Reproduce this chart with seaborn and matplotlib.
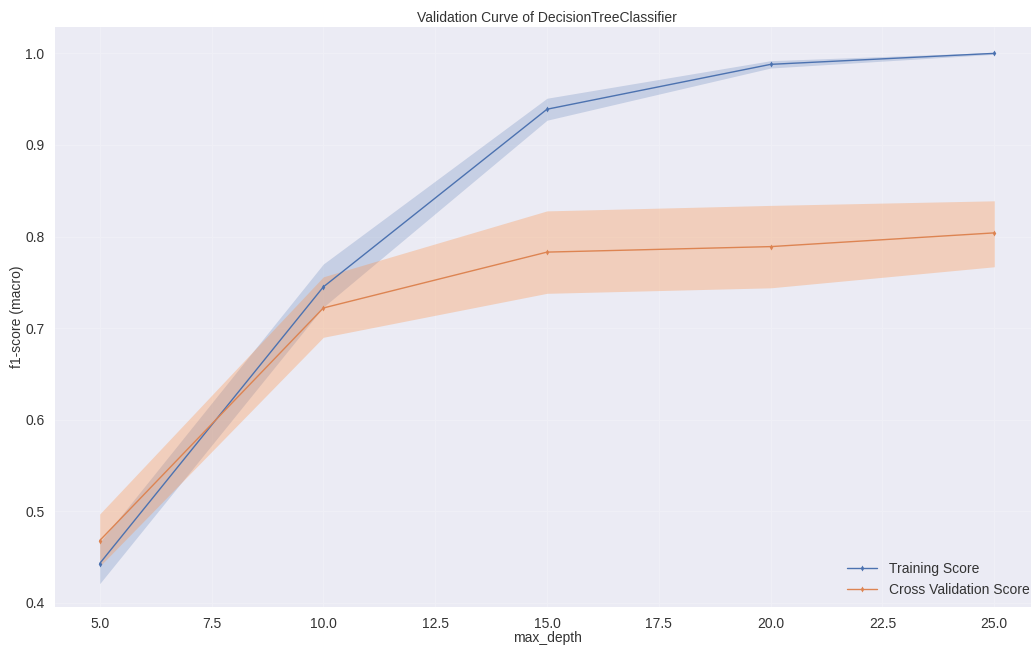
import numpy as np
import pandas as pd
import matplotlib
matplotlib.use("Agg")
import matplotlib.pyplot as plt
import seaborn as sns

# max_depth values tested
param_range = [5, 10, 15, 20, 25]

# mean scores and +/- one std bands
train_mean = [0.443, 0.745, 0.939, 0.988, 1.000]
train_low = [0.421, 0.723, 0.927, 0.984, 0.999]
train_high = [0.466, 0.770, 0.951, 0.992, 1.001]

cv_mean = [0.468, 0.722, 0.783, 0.789, 0.804]
cv_low = [0.440, 0.690, 0.738, 0.744, 0.767]
cv_high = [0.497, 0.756, 0.828, 0.834, 0.839]

series_names = ["Training Score", "Cross Validation Score"]
xticks = [5.0, 7.5, 10.0, 12.5, 15.0, 17.5, 20.0, 22.5, 25.0]
yticks = [0.4, 0.5, 0.6, 0.7, 0.8, 0.9, 1.0]

sns.set_theme(style="darkgrid", rc={
    "axes.facecolor": "#EBEBF4",
    "grid.color": "#EFEFF6",
    "grid.linewidth": 0.8,
})
plt.rcParams["font.family"] = ["Liberation Sans", "DejaVu Sans"]

palette = sns.color_palette("deep")
blue, orange = palette[0], palette[1]

df = pd.DataFrame({
    "max_depth": param_range * 2,
    "score": train_mean + cv_mean,
    "series": [series_names[0]] * len(param_range) + [series_names[1]] * len(param_range),
})

fig = plt.figure(figsize=(10.31, 6.49), dpi=100)
ax = fig.add_axes([0.0533, 0.0647, 1.0078 - 0.0533, 0.958 - 0.0647])

ax.fill_between(param_range, train_low, train_high, color=blue, alpha=0.23, linewidth=0)
ax.fill_between(param_range, cv_low, cv_high, color="#FF8C3C", alpha=0.3, linewidth=0)

sns.lineplot(data=df, x="max_depth", y="score", hue="series",
             palette=[blue, orange], marker="d", markersize=3,
             markeredgewidth=0, linewidth=1.0, ax=ax)

ax.set_xlim(4.0, 26.0)
ax.set_ylim(0.3955, 1.0285)
ax.set_xticks(xticks)
ax.set_xticklabels([f"{t:.1f}" for t in xticks])
ax.set_yticks(yticks)
ax.set_yticklabels([f"{t:.1f}" for t in yticks])
ax.tick_params(labelsize=10, colors="#333333")
ax.tick_params(axis="x", pad=1.5)
ax.tick_params(axis="y", pad=1.5)

ax.set_title("Validation Curve of DecisionTreeClassifier", fontsize=10, color="#333333", pad=4)
ax.set_xlabel("max_depth", fontsize=10, color="#333333", labelpad=0)
ax.set_ylabel("f1-score (macro)", fontsize=10, color="#333333", labelpad=1)

leg = ax.legend(loc="lower right", frameon=False, fontsize=10,
                borderaxespad=0.3, handlelength=2.2)
for t in leg.get_texts():
    t.set_color("#333333")

for s in ax.spines.values():
    s.set_visible(False)

fig.savefig("out.png", dpi=100)
